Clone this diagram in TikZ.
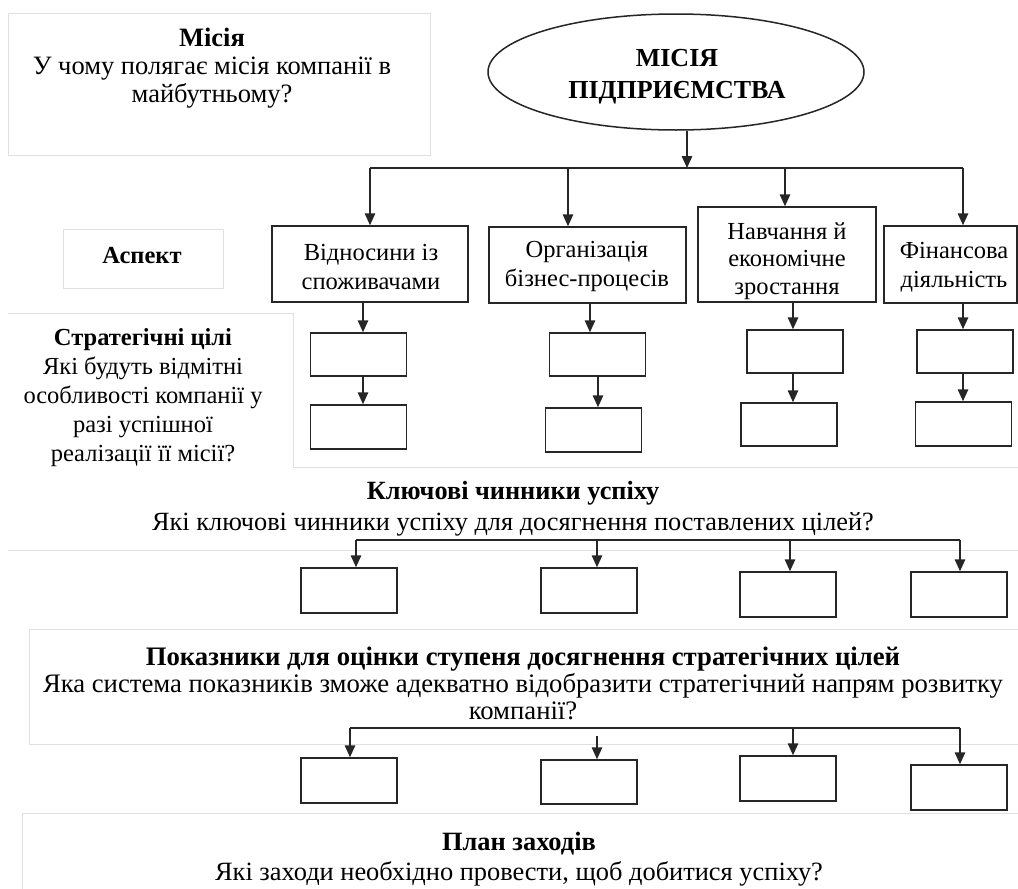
\documentclass[tikz,border=0pt]{standalone}
\usepackage{fontspec}
\setmainfont{Liberation Serif}
\usetikzlibrary{arrows.meta,shapes.geometric,calc}
\begin{document}
\begin{tikzpicture}[x=1pt,y=-1pt,
  blk/.style={draw=black!85, line width=1.5pt, rectangle, inner sep=0pt},
  sbox/.style={blk, minimum width=96pt, minimum height=44pt},
  arr/.style={draw=black!85, line width=1.5pt, -{Triangle[width=10.5pt,length=12pt]}},
  ln/.style={draw=black!85, line width=1.5pt},
  faint/.style={draw=black!12, line width=1pt},
  txt/.style={font=\fontsize{24.5}{29}\selectfont, align=center, inner sep=0pt}]
\useasboundingbox (0,0) rectangle (1018,889);
\fill[white] (0,0) rectangle (1018,889);

% faint frames
\draw[faint] (8,13) rectangle (430,155);
\draw[faint] (63,229) rectangle (223,288);
\draw[faint] (8,313) -- (293,313) -- (293,467) -- (1018,467);
\draw[faint] (8,550) -- (1018,550);
\draw[faint] (1018,629) -- (29,629) -- (29,744) -- (1018,744);
\draw[faint] (1018,813) -- (22,813) -- (22,889);

% texts
\node[txt, font=\fontsize{26.5}{28}\selectfont] (mis) at (212,68) {\textbf{Місія}\\У чому полягає місія компанії в\\майбутньому?};
\node[txt] (asp) at (142,256) {\textbf{Аспект}};
\node[txt] (sc) at (143,398) {\textbf{Стратегічні цілі}\\Які будуть відмітні\\особливості компанії у\\разі успішної\\реалізації її місії?};
\node[txt, font=\fontsize{26.3}{31}\selectfont] (kcu) at (513,509) {\textbf{Ключові чинники успіху}\\Які ключові чинники успіху для досягнення поставлених цілей?};
\node[txt, font=\fontsize{26.7}{27}\selectfont] (pok) at (523,683) {\textbf{Показники для оцінки ступеня досягнення стратегічних цілей}\\Яка система показників зможе адекватно відобразити стратегічний напрям розвитку\\компанії?};
\node[txt, font=\fontsize{26.4}{30}\selectfont] (plan) at (519,859) {\textbf{План заходів}\\Які заходи необхідно провести, щоб добитися успіху?};

% mission ellipse
\node[draw=black!85, line width=1.5pt, ellipse, inner sep=0pt, minimum width=376pt, minimum height=116pt] (E) at (676,72) {};
\node[font=\fontsize{26}{32}\selectfont\bfseries, align=center, inner sep=0pt] (Et) at (677,77) {МІСІЯ\\ПІДПРИЄМСТВА};

% aspect boxes
\node[blk, minimum width=196pt, minimum height=76pt] (a1) at (370,264) {};
\node[txt] (a1t) at (371,267) {Відносини із\\споживачами};
\node[blk, minimum width=197pt, minimum height=76pt] (a2) at (587.5,265) {};
\node[txt] (a2t) at (587,266) {Організація\\бізнес-процесів};
\node[blk, minimum width=178pt, minimum height=95pt] (a3) at (787,254.5) {};
\node[txt, font=\fontsize{24.5}{27.5}\selectfont] (a3t) at (787,261) {Навчання й\\економічне\\зростання};
\node[blk, minimum width=133pt, minimum height=77pt] (a4) at (950.5,264.5) {};
\node[txt] (a4t) at (954,267) {Фінансова\\діяльність};

% bus from mission
\coordinate (bE) at (687,168);
\coordinate (b1) at (370,168);
\coordinate (b2) at (568,168);
\coordinate (b3) at (785,168);
\coordinate (b4) at (963,168);
\draw[arr] (bE |- E.south) -- (bE);
\draw[ln] (b1) -- (b4);
\draw[arr] (b1) -- (b1 |- a1.north);
\draw[arr] (b2) -- (b2 |- a2.north);
\draw[arr] (b3) -- (b3 |- a3.north);
\draw[arr] (b4) -- (b4 |- a4.north);

% strategic goal boxes
\node[sbox, minimum height=43pt] (s1a) at (358.5,354.5) {};
\node[sbox] (s1b) at (358.5,427) {};
\node[sbox, minimum height=43pt] (s2a) at (597.5,354.5) {};
\node[sbox] (s2b) at (593.5,430) {};
\node[sbox, minimum height=43pt] (s3a) at (795,351.5) {};
\node[sbox, minimum height=43pt] (s3b) at (789,424.5) {};
\node[sbox, minimum height=43pt] (s4a) at (965,351.5) {};
\node[sbox] (s4b) at (963.5,424) {};

\draw[arr] ([xshift=-7pt]a1.south) -- ([xshift=4.5pt]s1a.north);
\draw[arr] ([xshift=4.5pt]s1a.south) -- ([xshift=4.5pt]s1b.north);
\draw[arr] ([xshift=2.5pt]a2.south) -- ([xshift=-7.5pt]s2a.north);
\draw[arr] ([xshift=0.5pt]s2a.south) -- ([xshift=4.5pt]s2b.north);
\draw[arr] ([xshift=6pt]a3.south) -- ([xshift=-2pt]s3a.north);
\draw[arr] ([xshift=-2pt]s3a.south) -- ([xshift=4pt]s3b.north);
\draw[arr] ([xshift=12.5pt]a4.south) -- ([xshift=-2pt]s4a.north);
\draw[arr] ([xshift=-2pt]s4a.south) -- ([xshift=-0.5pt]s4b.north);

% key success factors
\node[sbox, minimum height=45pt] (k1) at (349,590.5) {};
\node[sbox, minimum height=45pt] (k2) at (589,590.5) {};
\node[sbox, minimum height=45pt] (k3) at (788,594.5) {};
\node[sbox, minimum height=45pt] (k4) at (959,594.5) {};
\coordinate (kb1) at (356,540);
\coordinate (kb2) at (597,540);
\coordinate (kb3) at (790,540);
\coordinate (kb4) at (960,540);
\draw[ln] (kb1) -- (kb4);
\draw[arr] (kb1) -- (kb1 |- k1.north);
\draw[arr] (kb2) -- (kb2 |- k2.north);
\draw[arr] (kb3) -- (kb3 |- k3.north);
\draw[arr] (kb4) -- (kb4 |- k4.north);

% indicators
\node[sbox, minimum height=45pt] (p1) at (349,780.5) {};
\node[sbox, minimum height=44pt] (p2) at (589,782) {};
\node[sbox, minimum height=45pt] (p3) at (788,778.5) {};
\node[sbox, minimum height=45pt] (p4) at (959,787.5) {};
\coordinate (pb1) at (350,728);
\coordinate (pb2) at (597,736);
\coordinate (pb3) at (793,728);
\coordinate (pb4) at (960,728);
\draw[ln] (pb1) -- (pb4);
\draw[arr] (pb1) -- (pb1 |- p1.north);
\draw[arr] (pb2) -- (pb2 |- p2.north);
\draw[arr] (pb3) -- (pb3 |- p3.north);
\draw[arr] (pb4) -- (pb4 |- p4.north);
\end{tikzpicture}
\end{document}
